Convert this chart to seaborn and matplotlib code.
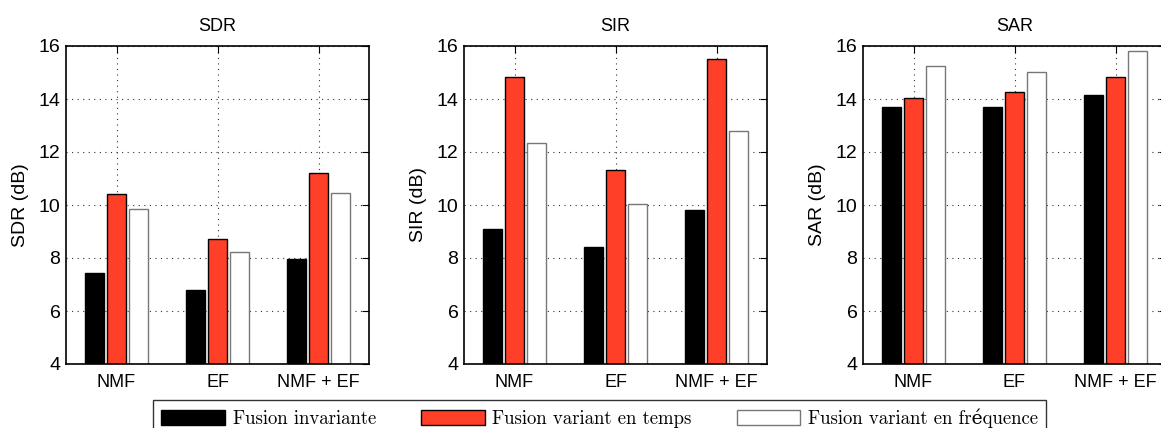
import pandas as pd
import matplotlib.pyplot as plt
import seaborn as sns

categories = ['NMF', 'EF', 'NMF + EF']
methods = ['Fusion invariante', 'Fusion variant en temps', 'Fusion variant en fréquence']

sdr_inv = [7.42, 6.80, 7.97]
sdr_temps = [10.40, 8.72, 11.22]
sdr_freq = [9.85, 8.23, 10.45]

sir_inv = [9.10, 8.42, 9.80]
sir_temps = [14.82, 11.32, 15.50]
sir_freq = [12.33, 10.03, 12.78]

sar_inv = [13.68, 13.68, 14.15]
sar_temps = [14.04, 14.25, 14.84]
sar_freq = [15.25, 15.03, 15.83]

colors = ['#000000', '#ff3f28', '#ffffff']
edges = ['#000000', '#000000', '#777777']


def make_df(inv, temps, freq):
    rows = []
    for serie, m in zip([inv, temps, freq], methods):
        for c, v in zip(categories, serie):
            rows.append([c, m, v])
    return pd.DataFrame(rows, columns=['categorie', 'methode', 'valeur'])


sns.set_style('white')
plt.rcParams['font.family'] = ['Liberation Sans', 'DejaVu Sans']
for k in ['text.color', 'axes.labelcolor', 'xtick.color', 'ytick.color']:
    plt.rcParams[k] = 'black'

fig = plt.figure(figsize=(11.61, 4.28), dpi=100)
lefts = [66, 464, 863]
panels = [('SDR', sdr_inv, sdr_temps, sdr_freq),
          ('SIR', sir_inv, sir_temps, sir_freq),
          ('SAR', sar_inv, sar_temps, sar_freq)]

for left, (name, inv, temps, freq) in zip(lefts, panels):
    ax = fig.add_axes([left / 1161, 64 / 428, 303 / 1161, 318 / 428])
    df = make_df(inv, temps, freq)
    sns.barplot(data=df, x='categorie', y='valeur', hue='methode', order=categories,
                hue_order=methods, palette=colors, width=0.66, gap=0.16,
                saturation=1, legend=False, ax=ax)
    for cont, ec in zip(ax.containers, edges):
        for p in cont:
            p.set_edgecolor(ec)
            p.set_linewidth(1.0)
    ax.set_ylim(4, 16)
    ax.set_xlim(-0.5, 2.5)
    ax.set_yticks([4, 6, 8, 10, 12, 14, 16])
    ax.set_axisbelow(True)
    ax.grid(True, linestyle=(0, (1, 4)), color='#333333', linewidth=0.8)
    for s in ax.spines.values():
        s.set_visible(True)
        s.set_color('black')
        s.set_linewidth(1.2)
    ax.tick_params(direction='in', top=True, right=True, length=5, labelsize=14, pad=4)
    ax.tick_params(axis='x', labelsize=13, pad=7)
    ax.set_xlabel('')
    ax.set_ylabel(name + ' (dB)', fontsize=14, labelpad=7)
    ax.set_title(name, fontsize=13, pad=11)

handles = [plt.Rectangle((0, 0), 1, 1, facecolor=c, edgecolor=e) for c, e in zip(colors, edges)]
leg = fig.legend(handles, methods, loc='upper left', ncol=3,
                 bbox_to_anchor=(153 / 1161, 28 / 428),
                 prop={'family': ['cmr10', 'DejaVu Serif'], 'size': 13.5},
                 handlelength=3.4, handleheight=0.85, handletextpad=0.4,
                 columnspacing=2.4, borderpad=0.45,
                 borderaxespad=0, fancybox=False, frameon=True)
leg.get_frame().set_edgecolor('black')
leg.get_frame().set_linewidth(1.0)

plt.savefig('out.png', dpi=100)
